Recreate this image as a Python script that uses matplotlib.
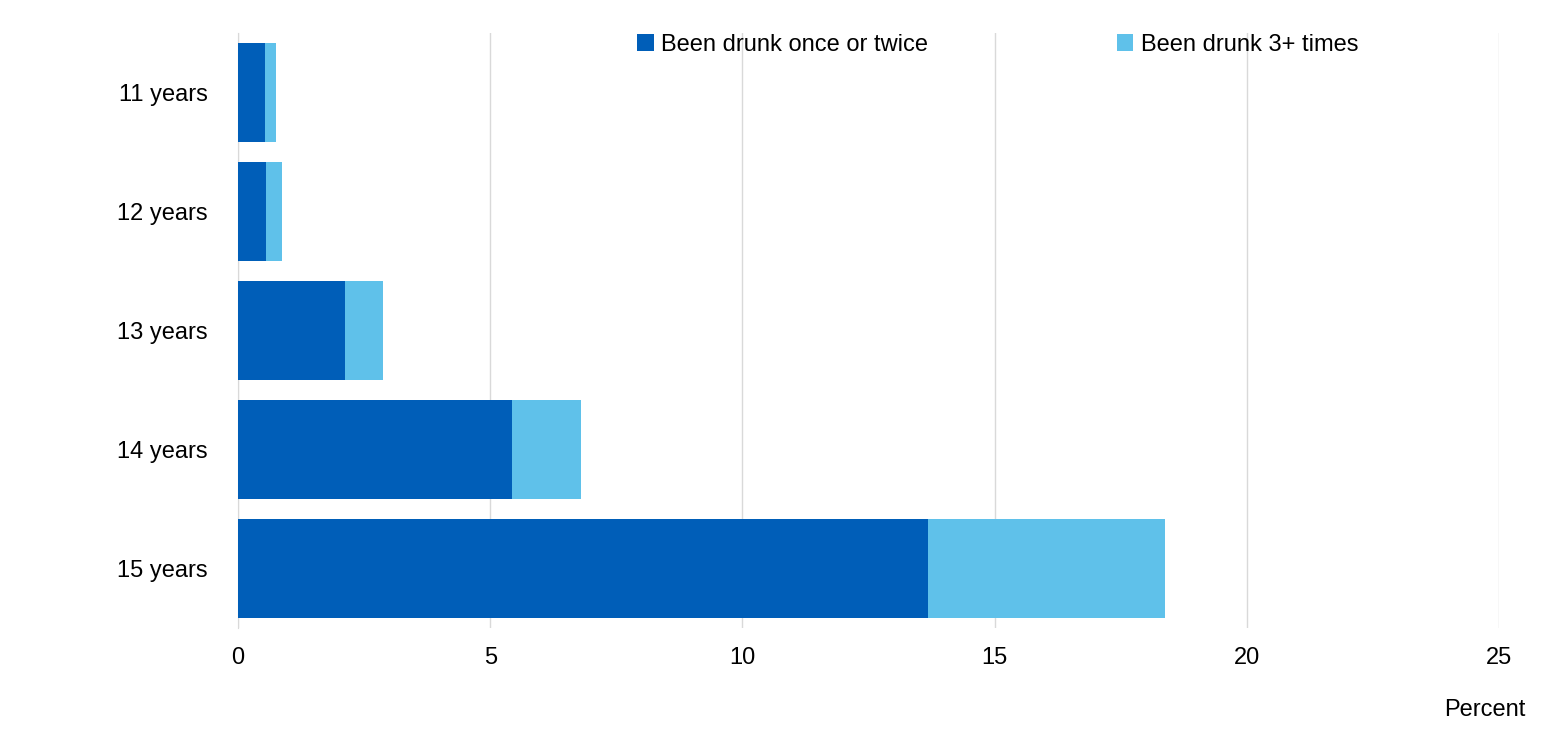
import matplotlib
matplotlib.use("Agg")
import matplotlib.pyplot as plt
plt.rcParams['font.family'] = ['Liberation Sans', 'DejaVu Sans']

categories = ["11 years", "12 years", "13 years", "14 years", "15 years"]
once_twice = [0.54, 0.56, 2.12, 5.43, 13.68]
three_plus = [0.21, 0.31, 0.75, 1.37, 4.70]
xticks = [0, 5, 10, 15, 20, 25]

fig = plt.figure(figsize=(15.59, 7.41), dpi=100)
ax = fig.add_axes([238/1559, 1-628/741, (1499-238)/1559, 595/741])
y = list(range(len(categories)))
ax.barh(y, once_twice, height=0.84, color="#005EB8", label="Been drunk once or twice", zorder=3)
ax.barh(y, three_plus, left=once_twice, height=0.84, color="#5FC1EA", label="Been drunk 3+ times", zorder=3)
ax.set_ylim(4.5, -0.5)
ax.set_xlim(0, 25)
ax.set_xticks(xticks)
ax.set_yticks(y)
ax.set_yticklabels(categories)
ax.tick_params(axis='both', length=0, labelsize=17)
ax.tick_params(axis='x', pad=14)
ax.tick_params(axis='y', pad=22)
ax.grid(axis='x', color="#D9D9D9", linewidth=1, zorder=0)
for s in ['top', 'right', 'bottom']:
    ax.spines[s].set_visible(False)
ax.spines['left'].set_color("#D9D9D9")
fig.text(1526/1559, 1-710/741, "Percent", ha='right', va='center', fontsize=17)
fig.legend(loc='center', bbox_to_anchor=(0.64, 1-45/741), ncol=2, frameon=False,
           fontsize=17, handlelength=0.7, handleheight=0.7, columnspacing=8, handletextpad=0.3)
fig.savefig("out.png", dpi=100)
